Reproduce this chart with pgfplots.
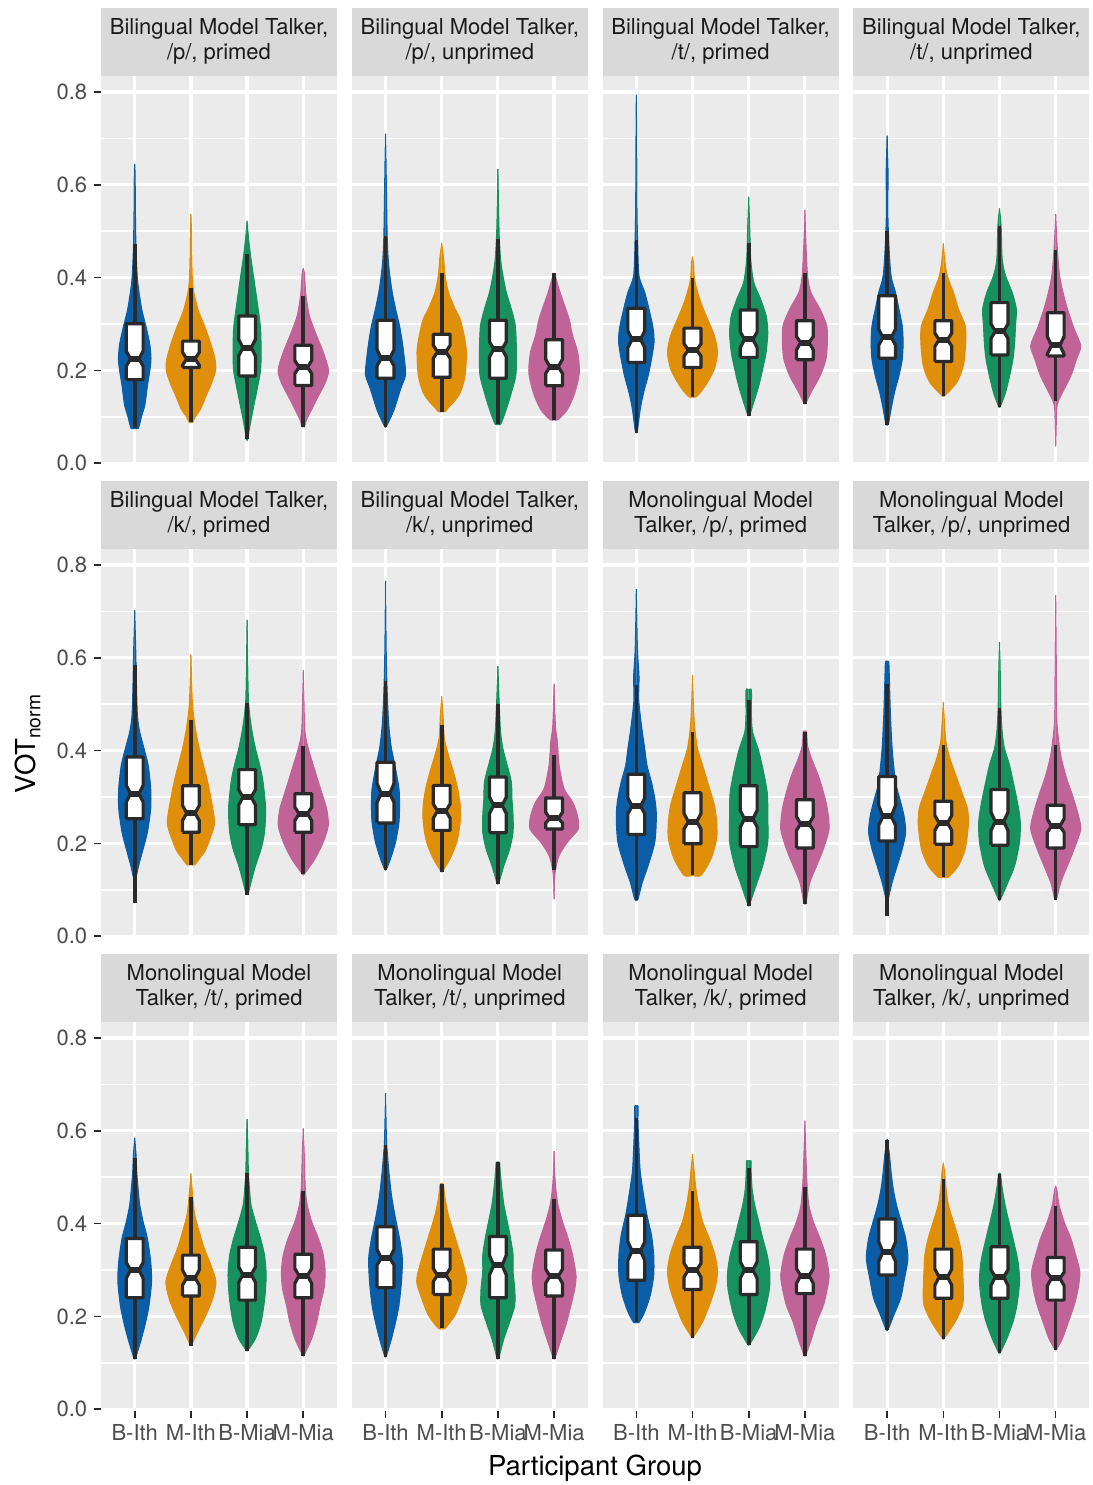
\documentclass[border=0pt]{standalone}
\usepackage{pgfplots}
\pgfplotsset{compat=1.18}
\usepackage{fontspec}
\setmainfont{TeX Gyre Heros}
\definecolor{cB}{HTML}{0B5EA5}
\definecolor{cO}{HTML}{E08F0B}
\definecolor{cG}{HTML}{16915F}
\definecolor{cP}{HTML}{C06497}
\definecolor{panelbg}{HTML}{EBEBEB}
\definecolor{stripbg}{HTML}{D9D9D9}
\definecolor{gline}{HTML}{2A2A2A}
\definecolor{gray30}{HTML}{4D4D4D}
\definecolor{gray10}{HTML}{1A1A1A}
\newcommand\smallfont{\fontsize{11bp}{12.5bp}\selectfont}
\newcommand\bigfont{\fontsize{13.75bp}{16bp}\selectfont}
\pgfplotsset{
  panel/.style={
    scale only axis, width=118bp, height=194.5bp,
    xmin=0.4, xmax=4.6, ymin=-0.004, ymax=0.8345,
    xtick={1,2,3,4}, ytick={0,0.2,0.4,0.6,0.8}, minor ytick={0.1,0.3,0.5,0.7},
    axis x line*=bottom, axis y line*=left,
    axis line style={draw=none, -},
    axis background/.style={fill=panelbg},
    xmajorgrids, ymajorgrids, yminorgrids,
    major grid style={white, line width=1.6bp},
    minor grid style={white, line width=0.8bp},
    tick align=outside, tick pos=left, major tick length=3.4bp, minor tick length=0pt,
    tick style={gline, line width=0.8bp},
    /pgf/number format/assume math mode=true,
    tick label style={font=\smallfont, text=gray30},
    yticklabel style={/pgf/number format/fixed, /pgf/number format/fixed zerofill, /pgf/number format/precision=1},
    xticklabels={B-Ith,M-Ith,B-Mia,M-Mia},
    clip=false, no markers, anchor=north west,
  },
  noy/.style={ymajorticks=false, yminorticks=false},
  nox/.style={xmajorticks=false},
}
\newcommand\strip[1]{\node[fill=stripbg, minimum width=118bp, minimum height=34bp, inner sep=0pt, anchor=south, align=center, font=\smallfont, text=gray10] at (rel axis cs:0.5,1) {#1};}
\newcommand\vio[3]{%
  \addplot[fill=#2, draw=#2, line width=0.5bp, smooth, tension=0.45, x filter/.expression={#1+x}] coordinates {#3};
  \addplot[fill=#2, draw=#2, line width=0.5bp, smooth, tension=0.45, x filter/.expression={#1-x}] coordinates {#3};
}
\newcommand\bx[8]{%
  \addplot[draw=gline, line width=1.8bp] coordinates {(#1,#7) (#1,#8)};
  \addplot[fill=white, draw=gline, line width=1.6bp, line join=round, x filter/.expression={#1+x}] coordinates {(-0.15,#2) (-0.15,#3) (-0.075,#4) (-0.15,#5) (-0.15,#6) (0.15,#6) (0.15,#5) (0.075,#4) (0.15,#3) (0.15,#2) (-0.15,#2)};
  \addplot[draw=gline, line width=3bp, x filter/.expression={#1+x}] coordinates {(-0.075,#4) (0.075,#4)};
}
\begin{document}
\begin{tikzpicture}
\useasboundingbox (0,0) rectangle (546.5bp,-742.5bp);
% ---------- Row 1 ----------
\begin{axis}[panel, nox, at={(50.5bp,-38bp)}]
\strip{Bilingual Model Talker,\\/p/, primed}
\vio{1}{cB}{(0,0.075)(0.065,0.075)(0.12,0.10)(0.18,0.125)(0.23,0.17)(0.27,0.20)(0.29,0.225)(0.27,0.255)(0.21,0.29)(0.125,0.332)(0.054,0.39)(0.03,0.44)(0.02,0.48)(0.012,0.55)(0.008,0.62)(0,0.645)}
\bx{1}{0.180}{0.209}{0.225}{0.2415}{0.3005}{0.075}{0.473}
\vio{2}{cO}{(0,0.088)(0.03,0.088)(0.08,0.10)(0.17,0.116)(0.27,0.145)(0.37,0.173)(0.44,0.200)(0.43,0.224)(0.36,0.255)(0.26,0.29)(0.13,0.33)(0.05,0.37)(0.025,0.40)(0.015,0.45)(0.01,0.50)(0,0.537)}
\bx{2}{0.206}{0.211}{0.225}{0.239}{0.263}{0.088}{0.377}
\vio{3}{cG}{(0,0.051)(0.01,0.051)(0.05,0.08)(0.107,0.116)(0.18,0.16)(0.24,0.20)(0.25,0.24)(0.24,0.29)(0.20,0.33)(0.13,0.39)(0.07,0.44)(0.03,0.48)(0.015,0.50)(0,0.522)}
\bx{3}{0.188}{0.231}{0.249}{0.267}{0.317}{0.051}{0.451}
\vio{4}{cP}{(0,0.078)(0.02,0.078)(0.06,0.094)(0.15,0.116)(0.27,0.145)(0.39,0.173)(0.45,0.20)(0.36,0.238)(0.24,0.274)(0.11,0.317)(0.05,0.36)(0.03,0.39)(0.02,0.41)(0,0.42)}
\bx{4}{0.1675}{0.193}{0.207}{0.221}{0.254}{0.078}{0.36}
\end{axis}
\begin{axis}[panel, nox, noy, at={(175.9bp,-38bp)}]
\strip{Bilingual Model Talker,\\/p/, unprimed}
\vio{1}{cB}{(0,0.077)(0.02,0.08)(0.08,0.095)(0.155,0.116)(0.27,0.16)(0.357,0.19)(0.34,0.22)(0.30,0.26)(0.25,0.296)(0.18,0.332)(0.12,0.368)(0.077,0.404)(0.048,0.44)(0.03,0.49)(0.018,0.58)(0.008,0.66)(0,0.71)}
\bx{1}{0.183}{0.21}{0.226}{0.244}{0.308}{0.077}{0.49}
\vio{2}{cO}{(0,0.111)(0.06,0.111)(0.12,0.12)(0.21,0.131)(0.33,0.152)(0.416,0.188)(0.44,0.24)(0.40,0.275)(0.33,0.31)(0.24,0.332)(0.12,0.368)(0.06,0.404)(0.036,0.44)(0,0.474)}
\bx{2}{0.185}{0.226}{0.24}{0.254}{0.278}{0.111}{0.41}
\vio{3}{cG}{(0,0.084)(0.05,0.084)(0.15,0.116)(0.24,0.152)(0.32,0.19)(0.33,0.24)(0.31,0.296)(0.24,0.332)(0.15,0.368)(0.09,0.404)(0.048,0.44)(0.024,0.49)(0.012,0.55)(0,0.634)}
\bx{3}{0.183}{0.229}{0.246}{0.262}{0.308}{0.084}{0.483}
\vio{4}{cP}{(0,0.0935)(0.07,0.0935)(0.24,0.116)(0.37,0.152)(0.45,0.195)(0.42,0.239)(0.33,0.275)(0.27,0.31)(0.21,0.332)(0.107,0.368)(0.03,0.40)(0,0.41)}
\bx{4}{0.167}{0.193}{0.208}{0.224}{0.266}{0.0935}{0.41}
\end{axis}
\begin{axis}[panel, nox, noy, at={(301.3bp,-38bp)}]
\strip{Bilingual Model Talker,\\/t/, primed}
\vio{1}{cB}{(0,0.066)(0.02,0.07)(0.07,0.116)(0.13,0.152)(0.21,0.188)(0.27,0.224)(0.315,0.26)(0.30,0.29)(0.226,0.332)(0.15,0.368)(0.048,0.404)(0.024,0.476)(0.012,0.55)(0.006,0.70)(0,0.794)}
\bx{1}{0.217}{0.249}{0.267}{0.285}{0.334}{0.066}{0.482}
\vio{2}{cO}{(0,0.143)(0.07,0.143)(0.23,0.167)(0.39,0.203)(0.445,0.239)(0.39,0.275)(0.27,0.31)(0.15,0.346)(0.06,0.382)(0.03,0.404)(0.02,0.43)(0,0.445)}
\bx{2}{0.206}{0.231}{0.244}{0.257}{0.291}{0.143}{0.399}
\vio{3}{cG}{(0,0.102)(0.02,0.105)(0.09,0.131)(0.18,0.167)(0.25,0.203)(0.31,0.239)(0.34,0.282)(0.31,0.318)(0.21,0.354)(0.09,0.39)(0.036,0.44)(0.018,0.51)(0,0.574)}
\bx{3}{0.228}{0.249}{0.267}{0.283}{0.33}{0.102}{0.474}
\vio{4}{cP}{(0,0.127)(0.02,0.13)(0.107,0.152)(0.27,0.188)(0.375,0.224)(0.40,0.26)(0.39,0.296)(0.27,0.332)(0.107,0.368)(0.048,0.404)(0.018,0.476)(0,0.546)}
\bx{4}{0.223}{0.244}{0.26}{0.273}{0.307}{0.127}{0.41}
\end{axis}
\begin{axis}[panel, nox, noy, at={(426.7bp,-38bp)}]
\strip{Bilingual Model Talker,\\/t/, unprimed}
\vio{1}{cB}{(0,0.082)(0.024,0.085)(0.07,0.116)(0.13,0.152)(0.21,0.188)(0.27,0.224)(0.285,0.26)(0.27,0.296)(0.21,0.332)(0.15,0.368)(0.07,0.404)(0.03,0.476)(0.012,0.55)(0.018,0.62)(0,0.706)}
\bx{1}{0.226}{0.254}{0.271}{0.289}{0.361}{0.082}{0.501}
\vio{2}{cO}{(0,0.144)(0.03,0.146)(0.24,0.174)(0.357,0.21)(0.40,0.26)(0.39,0.296)(0.27,0.332)(0.18,0.368)(0.07,0.404)(0.024,0.44)(0,0.474)}
\bx{2}{0.219}{0.252}{0.266}{0.280}{0.307}{0.144}{0.41}
\vio{3}{cG}{(0,0.12)(0.02,0.123)(0.107,0.152)(0.18,0.188)(0.24,0.224)(0.27,0.26)(0.285,0.296)(0.30,0.332)(0.226,0.368)(0.107,0.404)(0.048,0.44)(0.03,0.51)(0,0.549)}
\bx{3}{0.233}{0.269}{0.284}{0.30}{0.346}{0.12}{0.512}
\vio{4}{cP}{(0,0.036)(0.006,0.06)(0.018,0.116)(0.048,0.134)(0.12,0.152)(0.27,0.188)(0.37,0.224)(0.446,0.253)(0.33,0.289)(0.21,0.332)(0.13,0.368)(0.07,0.404)(0.03,0.46)(0,0.537)}
\bx{4}{0.231}{0.235}{0.254}{0.273}{0.324}{0.134}{0.46}
\end{axis}
% ---------- Row 2 ----------
\begin{axis}[panel, nox, at={(50.5bp,-274.5bp)}]
\strip{Bilingual Model Talker,\\/k/, primed}
\vio{1}{cB}{(0,0.116)(0.03,0.13)(0.07,0.152)(0.15,0.188)(0.226,0.224)(0.285,0.275)(0.285,0.318)(0.24,0.368)(0.167,0.404)(0.09,0.44)(0.048,0.476)(0.03,0.548)(0.018,0.62)(0,0.702)}
\bx{1}{0.253}{0.289}{0.307}{0.325}{0.386}{0.072}{0.585}
\vio{2}{cO}{(0,0.154)(0.07,0.154)(0.17,0.17)(0.27,0.188)(0.416,0.239)(0.39,0.275)(0.30,0.332)(0.226,0.368)(0.15,0.404)(0.09,0.44)(0.048,0.476)(0.024,0.51)(0,0.607)}
\bx{2}{0.224}{0.249}{0.265}{0.282}{0.324}{0.154}{0.465}
\vio{3}{cG}{(0,0.089)(0.02,0.092)(0.07,0.116)(0.15,0.152)(0.25,0.188)(0.31,0.224)(0.33,0.275)(0.285,0.332)(0.226,0.368)(0.15,0.404)(0.09,0.44)(0.048,0.476)(0.024,0.51)(0.012,0.58)(0,0.682)}
\bx{3}{0.24}{0.282}{0.30}{0.316}{0.359}{0.089}{0.503}
\vio{4}{cP}{(0,0.133)(0.024,0.135)(0.21,0.167)(0.357,0.203)(0.446,0.239)(0.416,0.275)(0.345,0.303)(0.27,0.332)(0.18,0.368)(0.09,0.404)(0.03,0.44)(0.012,0.51)(0,0.573)}
\bx{4}{0.224}{0.249}{0.264}{0.278}{0.307}{0.133}{0.41}
\end{axis}
\begin{axis}[panel, nox, noy, at={(175.9bp,-274.5bp)}]
\strip{Bilingual Model Talker,\\/k/, unprimed}
\vio{1}{cB}{(0,0.142)(0.02,0.145)(0.09,0.167)(0.18,0.203)(0.24,0.246)(0.25,0.282)(0.24,0.318)(0.167,0.368)(0.107,0.404)(0.07,0.44)(0.048,0.476)(0.024,0.548)(0.012,0.62)(0,0.766)}
\bx{1}{0.244}{0.289}{0.307}{0.329}{0.375}{0.142}{0.551}
\vio{2}{cO}{(0,0.138)(0.02,0.141)(0.15,0.167)(0.27,0.203)(0.33,0.246)(0.33,0.282)(0.285,0.318)(0.21,0.354)(0.12,0.39)(0.048,0.426)(0.024,0.476)(0,0.517)}
\bx{2}{0.228}{0.254}{0.27}{0.285}{0.325}{0.138}{0.456}
\vio{3}{cG}{(0,0.113)(0.02,0.116)(0.107,0.152)(0.21,0.188)(0.27,0.224)(0.27,0.26)(0.25,0.296)(0.24,0.332)(0.167,0.368)(0.09,0.404)(0.048,0.44)(0.024,0.50)(0,0.582)}
\bx{3}{0.223}{0.264}{0.282}{0.30}{0.343}{0.113}{0.501}
\vio{4}{cP}{(0,0.08)(0.006,0.11)(0.024,0.142)(0.09,0.174)(0.24,0.203)(0.43,0.231)(0.416,0.26)(0.33,0.289)(0.178,0.318)(0.09,0.368)(0.06,0.418)(0.024,0.454)(0,0.544)}
\bx{4}{0.231}{0.244}{0.254}{0.267}{0.298}{0.142}{0.39}
\end{axis}
\begin{axis}[panel, nox, noy, at={(301.3bp,-274.5bp)}]
\strip{Monolingual Model\\Talker, /p/, primed}
\vio{1}{cB}{(0,0.077)(0.03,0.08)(0.107,0.116)(0.21,0.152)(0.33,0.203)(0.357,0.26)(0.33,0.296)(0.27,0.332)(0.19,0.368)(0.15,0.404)(0.107,0.44)(0.07,0.476)(0.042,0.512)(0.048,0.56)(0.02,0.62)(0,0.748)}
\bx{1}{0.219}{0.264}{0.28}{0.298}{0.349}{0.077}{0.541}
\vio{2}{cO}{(0,0.131)(0.15,0.131)(0.33,0.167)(0.43,0.21)(0.43,0.246)(0.39,0.282)(0.27,0.332)(0.18,0.368)(0.09,0.404)(0.048,0.44)(0.024,0.476)(0,0.562)}
\bx{2}{0.199}{0.231}{0.247}{0.264}{0.309}{0.131}{0.44}
\vio{3}{cG}{(0,0.066)(0.02,0.07)(0.15,0.116)(0.25,0.152)(0.34,0.203)(0.34,0.26)(0.33,0.31)(0.24,0.368)(0.167,0.404)(0.07,0.44)(0.048,0.476)(0.048,0.53)(0,0.53)}
\bx{3}{0.193}{0.235}{0.253}{0.271}{0.324}{0.066}{0.508}
\vio{4}{cP}{(0,0.07)(0.02,0.073)(0.09,0.116)(0.21,0.152)(0.33,0.188)(0.43,0.231)(0.40,0.275)(0.33,0.31)(0.24,0.346)(0.12,0.382)(0.048,0.41)(0.03,0.441)(0,0.441)}
\bx{4}{0.19}{0.228}{0.242}{0.258}{0.294}{0.07}{0.44}
\end{axis}
\begin{axis}[panel, nox, noy, at={(426.7bp,-274.5bp)}]
\strip{Monolingual Model\\Talker, /p/, unprimed}
\vio{1}{cB}{(0,0.068)(0.02,0.08)(0.09,0.116)(0.18,0.152)(0.27,0.188)(0.33,0.224)(0.30,0.26)(0.226,0.296)(0.15,0.332)(0.09,0.404)(0.06,0.476)(0.042,0.548)(0.03,0.591)(0,0.591)}
\bx{1}{0.205}{0.239}{0.258}{0.282}{0.344}{0.043}{0.544}
\vio{2}{cO}{(0,0.127)(0.09,0.127)(0.27,0.152)(0.39,0.188)(0.446,0.239)(0.43,0.275)(0.33,0.31)(0.226,0.346)(0.12,0.382)(0.048,0.418)(0.024,0.454)(0,0.505)}
\bx{2}{0.198}{0.228}{0.244}{0.26}{0.291}{0.127}{0.411}
\vio{3}{cG}{(0,0.077)(0.02,0.08)(0.15,0.116)(0.27,0.152)(0.357,0.203)(0.37,0.246)(0.33,0.282)(0.27,0.318)(0.18,0.368)(0.09,0.404)(0.048,0.44)(0.024,0.495)(0.012,0.58)(0,0.634)}
\bx{3}{0.196}{0.228}{0.247}{0.267}{0.316}{0.077}{0.492}
\vio{4}{cP}{(0,0.079)(0.02,0.082)(0.09,0.116)(0.21,0.152)(0.33,0.188)(0.446,0.231)(0.39,0.267)(0.30,0.303)(0.18,0.346)(0.09,0.39)(0.036,0.44)(0.018,0.476)(0.009,0.62)(0,0.735)}
\bx{4}{0.19}{0.224}{0.237}{0.253}{0.282}{0.079}{0.411}
\end{axis}
% ---------- Row 3 ----------
\begin{axis}[panel, at={(50.5bp,-511bp)}]
\strip{Monolingual Model\\Talker, /t/, primed}
\vio{1}{cB}{(0,0.109)(0.02,0.112)(0.12,0.152)(0.196,0.188)(0.256,0.224)(0.30,0.275)(0.285,0.318)(0.226,0.368)(0.15,0.404)(0.09,0.44)(0.06,0.476)(0.036,0.512)(0.024,0.548)(0,0.585)}
\bx{1}{0.24}{0.282}{0.30}{0.316}{0.368}{0.109}{0.542}
\vio{2}{cO}{(0,0.137)(0.02,0.14)(0.12,0.167)(0.27,0.203)(0.39,0.239)(0.446,0.275)(0.357,0.31)(0.24,0.346)(0.15,0.382)(0.07,0.418)(0.036,0.454)(0,0.508)}
\bx{2}{0.244}{0.267}{0.283}{0.30}{0.332}{0.137}{0.458}
\vio{3}{cG}{(0,0.125)(0.02,0.128)(0.15,0.152)(0.25,0.188)(0.315,0.239)(0.34,0.289)(0.31,0.332)(0.24,0.368)(0.15,0.404)(0.07,0.44)(0.042,0.476)(0.024,0.51)(0.012,0.58)(0,0.625)}
\bx{3}{0.235}{0.273}{0.29}{0.307}{0.349}{0.125}{0.508}
\vio{4}{cP}{(0,0.115)(0.02,0.118)(0.15,0.152)(0.24,0.188)(0.30,0.224)(0.37,0.26)(0.39,0.296)(0.357,0.332)(0.27,0.368)(0.15,0.404)(0.07,0.44)(0.036,0.476)(0.018,0.55)(0,0.605)}
\bx{4}{0.24}{0.271}{0.288}{0.303}{0.334}{0.115}{0.47}
\end{axis}
\begin{axis}[panel, noy, at={(175.9bp,-511bp)}]
\strip{Monolingual Model\\Talker, /t/, unprimed}
\vio{1}{cB}{(0,0.113)(0.02,0.116)(0.107,0.152)(0.18,0.188)(0.24,0.224)(0.285,0.275)(0.30,0.325)(0.25,0.368)(0.167,0.418)(0.107,0.461)(0.06,0.512)(0.036,0.548)(0.018,0.58)(0,0.681)}
\bx{1}{0.262}{0.311}{0.326}{0.344}{0.393}{0.113}{0.569}
\vio{2}{cO}{(0,0.174)(0.06,0.174)(0.24,0.203)(0.357,0.239)(0.446,0.275)(0.39,0.31)(0.30,0.346)(0.21,0.382)(0.12,0.418)(0.06,0.454)(0.03,0.485)(0,0.485)}
\bx{2}{0.247}{0.275}{0.289}{0.303}{0.345}{0.174}{0.485}
\vio{3}{cG}{(0,0.109)(0.02,0.112)(0.107,0.152)(0.21,0.188)(0.30,0.224)(0.30,0.26)(0.27,0.296)(0.27,0.332)(0.226,0.368)(0.167,0.404)(0.107,0.44)(0.07,0.476)(0.042,0.512)(0.03,0.532)(0,0.532)}
\bx{3}{0.24}{0.289}{0.31}{0.332}{0.372}{0.109}{0.532}
\vio{4}{cP}{(0,0.109)(0.02,0.112)(0.13,0.152)(0.226,0.188)(0.30,0.224)(0.37,0.26)(0.39,0.289)(0.33,0.332)(0.25,0.368)(0.15,0.404)(0.07,0.44)(0.03,0.476)(0.012,0.51)(0,0.556)}
\bx{4}{0.244}{0.271}{0.287}{0.302}{0.343}{0.109}{0.453}
\end{axis}
\begin{axis}[panel, noy, at={(301.3bp,-511bp)}]
\strip{Monolingual Model\\Talker, /k/, primed}
\vio{1}{cB}{(0,0.187)(0.048,0.187)(0.15,0.21)(0.25,0.246)(0.31,0.289)(0.31,0.332)(0.27,0.375)(0.19,0.418)(0.13,0.461)(0.07,0.512)(0.048,0.562)(0.03,0.62)(0.03,0.653)(0,0.653)}
\bx{1}{0.278}{0.321}{0.341}{0.361}{0.418}{0.187}{0.628}
\vio{2}{cO}{(0,0.154)(0.024,0.157)(0.18,0.188)(0.30,0.224)(0.40,0.26)(0.446,0.296)(0.40,0.332)(0.30,0.368)(0.18,0.404)(0.107,0.44)(0.06,0.476)(0.03,0.512)(0,0.55)}
\bx{2}{0.258}{0.285}{0.30}{0.314}{0.349}{0.154}{0.47}
\vio{3}{cG}{(0,0.138)(0.024,0.141)(0.18,0.174)(0.285,0.21)(0.37,0.26)(0.375,0.296)(0.33,0.332)(0.25,0.368)(0.18,0.404)(0.107,0.44)(0.06,0.476)(0.042,0.52)(0.042,0.535)(0,0.535)}
\bx{3}{0.247}{0.282}{0.30}{0.318}{0.361}{0.138}{0.52}
\vio{4}{cP}{(0,0.115)(0.02,0.118)(0.12,0.152)(0.21,0.188)(0.33,0.224)(0.40,0.26)(0.43,0.289)(0.37,0.332)(0.27,0.368)(0.15,0.404)(0.07,0.44)(0.036,0.49)(0.018,0.548)(0,0.622)}
\bx{4}{0.249}{0.271}{0.288}{0.303}{0.345}{0.115}{0.478}
\end{axis}
\begin{axis}[panel, noy, at={(426.7bp,-511bp)}]
\strip{Monolingual Model\\Talker, /k/, unprimed}
\vio{1}{cB}{(0,0.17)(0.024,0.173)(0.12,0.203)(0.24,0.239)(0.31,0.282)(0.37,0.325)(0.33,0.368)(0.25,0.404)(0.167,0.44)(0.107,0.476)(0.07,0.512)(0.042,0.548)(0,0.582)}
\bx{1}{0.289}{0.318}{0.339}{0.361}{0.41}{0.17}{0.58}
\vio{2}{cO}{(0,0.151)(0.024,0.154)(0.21,0.188)(0.345,0.224)(0.357,0.26)(0.345,0.296)(0.33,0.332)(0.27,0.368)(0.18,0.404)(0.09,0.44)(0.048,0.476)(0.024,0.51)(0,0.531)}
\bx{2}{0.239}{0.267}{0.285}{0.302}{0.345}{0.151}{0.497}
\vio{3}{cG}{(0,0.12)(0.02,0.123)(0.13,0.152)(0.24,0.188)(0.31,0.224)(0.357,0.275)(0.33,0.318)(0.24,0.368)(0.167,0.404)(0.10,0.44)(0.048,0.476)(0.018,0.507)(0,0.507)}
\bx{3}{0.239}{0.267}{0.285}{0.30}{0.35}{0.12}{0.507}
\vio{4}{cP}{(0,0.127)(0.02,0.13)(0.12,0.152)(0.226,0.188)(0.33,0.224)(0.40,0.26)(0.43,0.296)(0.357,0.332)(0.27,0.368)(0.15,0.404)(0.06,0.44)(0.024,0.47)(0,0.481)}
\bx{4}{0.235}{0.266}{0.282}{0.295}{0.327}{0.127}{0.438}
\end{axis}
% ---------- axis titles ----------
\node[rotate=90, font=\bigfont] at (14bp,-371.75bp) {VOT\textsubscript{norm}};
\node[font=\bigfont] at (297.5bp,-734bp) {Participant Group};
\end{tikzpicture}
\end{document}
